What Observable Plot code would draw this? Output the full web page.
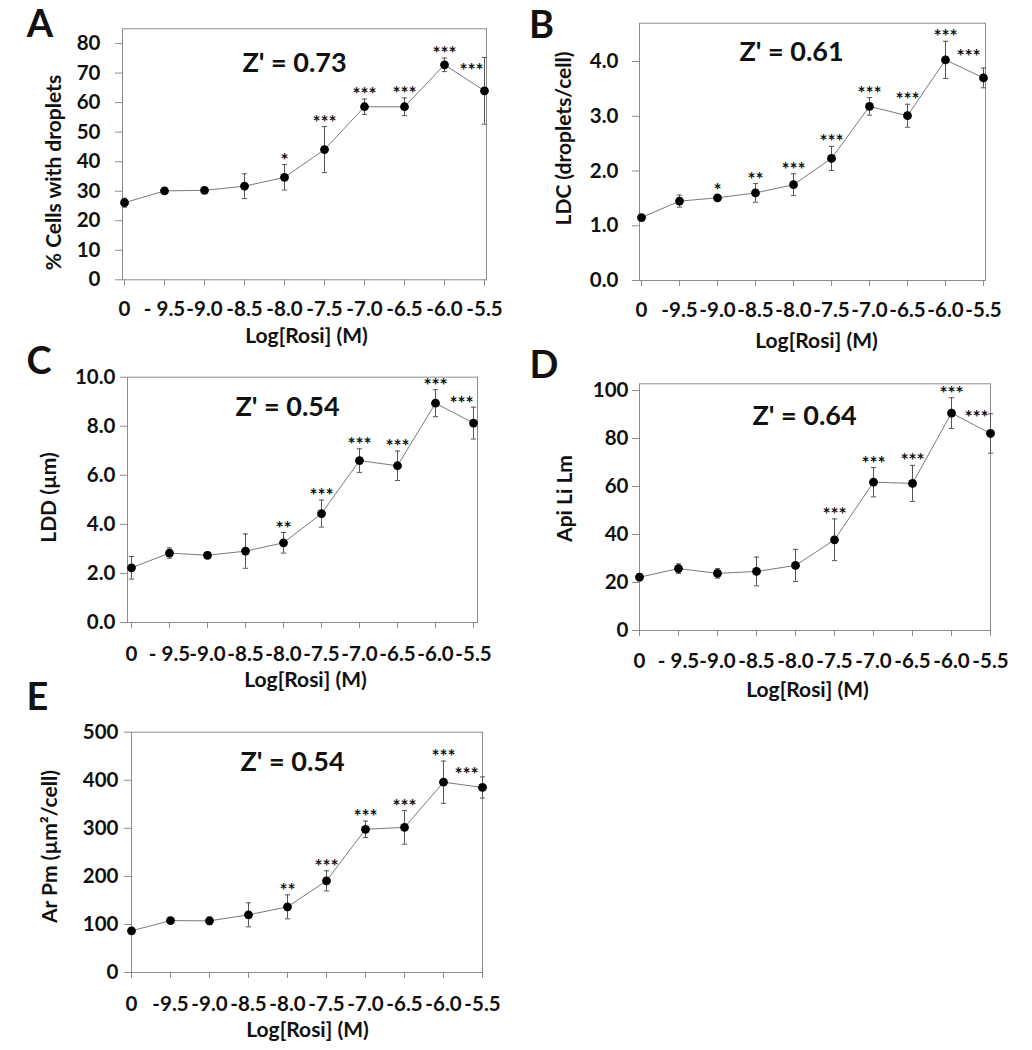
<!DOCTYPE html>
<html><head><meta charset="utf-8">
<script src="https://cdn.jsdelivr.net/npm/d3@7"></script>
<script src="https://cdn.jsdelivr.net/npm/@observablehq/plot@0.6"></script>
<style>
html,body{margin:0;padding:0;background:#fff;}
#page{position:relative;width:1032px;height:1050px;overflow:hidden;background:#fff;}
#page > div{position:absolute;}
#page svg{overflow:visible;}
</style></head><body><div id="page"></div>
<script>
// ---- categories & tick labels ----
const categories = ["0","-9.5","-9.0","-8.5","-8.0","-7.5","-7.0","-6.5","-6.0","-5.5"];
const tickLabelsSpaced = ["0","- 9.5","-9.0","-8.5","-8.0","-7.5","-7.0","-6.5","-6.0","-5.5"];
const tickLabelsTight = ["0","-9.5","-9.0","-8.5","-8.0","-7.5","-7.0","-6.5","-6.0","-5.5"];
const xTitle = "Log[Rosi] (M)";

// ---- A: % cells with droplets ----
const pctCellsMean = [26.1, 30.1, 30.3, 31.7, 34.7, 44.1, 58.6, 58.6, 72.8, 64.0];
const pctCellsErr  = [1.5, 0.6, 1.0, 4.2, 4.3, 7.8, 2.6, 3.0, 2.3, 11.3];
const pctCellsStars = ["", "", "", "", "*", "***", "***", "***", "***", "***"];
const pctCellsTicks = [0, 10, 20, 30, 40, 50, 60, 70, 80];

// ---- B: LDC ----
const ldcMean = [1.15, 1.45, 1.51, 1.60, 1.75, 2.23, 3.18, 3.01, 4.03, 3.70];
const ldcErr  = [0.03, 0.11, 0.05, 0.17, 0.20, 0.22, 0.16, 0.21, 0.34, 0.18];
const ldcStars = ["", "", "*", "**", "***", "***", "***", "***", "***", "***"];
const ldcTicks = [0, 1, 2, 3, 4];

// ---- C: LDD ----
const lddMean = [2.23, 2.83, 2.74, 2.91, 3.25, 4.44, 6.60, 6.39, 8.94, 8.13];
const lddErr  = [0.46, 0.21, 0.13, 0.70, 0.42, 0.55, 0.48, 0.60, 0.55, 0.65];
const lddStars = ["", "", "", "", "**", "***", "***", "***", "***", "***"];
const lddTicks = [0, 2, 4, 6, 8, 10];

// ---- D: Api Li Lm ----
const apiMean = [22.2, 25.8, 23.8, 24.6, 27.1, 37.8, 61.8, 61.3, 90.6, 82.1];
const apiErr  = [1.5, 2.0, 2.0, 6.0, 6.7, 8.7, 6.1, 7.5, 6.4, 8.2];
const apiStars = ["", "", "", "", "", "***", "***", "***", "***", "***"];
const apiTicks = [0, 20, 40, 60, 80, 100];

// ---- E: Ar Pm ----
const arMean = [86.7, 108, 107.5, 120, 136.6, 190.7, 298, 302, 396, 385];
const arErr  = [4, 5, 8, 25, 25, 21, 17, 35, 44, 22];
const arStars = ["", "", "", "", "**", "***", "***", "***", "***", "***"];
const arTicks = [0, 100, 200, 300, 400, 500];

const panels = [
  {letter: "A", yTitle: "% Cells with droplets", z: "Z' = 0.73",
   mean: pctCellsMean, err: pctCellsErr, stars: pctCellsStars, ticks: pctCellsTicks, fmt: d3.format("d"), yMax: 85, xLabels: tickLabelsSpaced,
   box: {left: 0, top: 0, width: 516, height: 345}, frame: {left: 122, right: 486, top: 28.3, bottom: 279.3},
   yPad: 15, xPad: 16, letterPos: [39.5, 24], yTitlePos: [53.5, 172], zPos: [294, 63], xTitlePos: [306, 336], lastStar: {dx: -13, dy: 17}},
  {letter: "B", yTitle: "LDC (droplets/cell)", z: "Z' = 0.61",
   mean: ldcMean, err: ldcErr, stars: ldcStars, ticks: ldcTicks, fmt: d3.format(".1f"), yMax: 4.7, xLabels: tickLabelsTight,
   box: {left: 516, top: 0, width: 516, height: 355}, frame: {left: 639, right: 985, top: 22.7, bottom: 280},
   yPad: 14, xPad: 16, letterPos: [541, 25], yTitlePos: [564, 138], zPos: [791, 52], xTitlePos: [816, 341], lastStar: {dx: -15, dy: -7}},
  {letter: "C", yTitle: "LDD (µm)", z: "Z' = 0.54",
   mean: lddMean, err: lddErr, stars: lddStars, ticks: lddTicks, fmt: d3.format(".1f"), yMax: 10, xLabels: tickLabelsSpaced,
   box: {left: 0, top: 340, width: 516, height: 355}, frame: {left: 127, right: 477, top: 376.7, bottom: 622},
   yPad: 5, xPad: 18, letterPos: [38.5, 361.5], yTitlePos: [49, 497], zPos: [287, 407], xTitlePos: [305, 680], lastStar: {dx: -12, dy: 1}},
  {letter: "D", yTitle: "Api Li Lm", z: "Z' = 0.64",
   mean: apiMean, err: apiErr, stars: apiStars, ticks: apiTicks, fmt: d3.format("d"), yMax: 102.8, xLabels: tickLabelsSpaced,
   box: {left: 516, top: 340, width: 516, height: 365}, frame: {left: 639, right: 990, top: 383.3, bottom: 630},
   yPad: 4, xPad: 17, letterPos: [543.5, 365], yTitlePos: [565, 498], zPos: [804, 416], xTitlePos: [807, 690], lastStar: {dx: -14, dy: 8}},
  {letter: "E", yTitle: "Ar Pm (µm²/cell)", z: "Z' = 0.54",
   mean: arMean, err: arErr, stars: arStars, ticks: arTicks, fmt: d3.format("d"), yMax: 500, xLabels: tickLabelsTight,
   box: {left: 0, top: 685, width: 516, height: 365}, frame: {left: 131, right: 482, top: 731.7, bottom: 972},
   yPad: 6, xPad: 18, letterPos: [37, 697.5], yTitlePos: [50, 846], zPos: [292, 762], xTitlePos: [307, 1030], lastStar: {dx: -16, dy: 2}}
];

// horizontal cap symbol for error bars
const capSymbol = {
  draw(context, size) {
    const w = Math.sqrt(size / Math.PI);
    context.moveTo(-w, 0);
    context.lineTo(w, 0);
  }
};

const page = document.getElementById("page");
const GRAY = "#8c8c8c";
const INK = "#111";

for (const p of panels) {
  const rows = categories.map((c, i) => ({cat: c, mean: p.mean[i], err: p.err[i], star: p.stars[i], last: i === categories.length - 1}));
  const f = p.frame, b = p.box;
  const rel = ([x, y]) => ({dx: x - f.left, dy: y - f.top});
  const label = (txt, pos, opts) => Plot.text([txt], {text: d => d, frameAnchor: "top-left", ...rel(pos), textAnchor: "middle", lineAnchor: "middle", fill: INK, ...opts});

  const chart = Plot.plot({
    width: b.width,
    height: b.height,
    marginLeft: f.left - b.left,
    marginRight: b.left + b.width - f.right,
    marginTop: f.top - b.top,
    marginBottom: b.top + b.height - f.bottom,
    style: {fontFamily: "Lato, 'Open Sans', sans-serif", fontWeight: "bold", background: "transparent", overflow: "visible", color: INK},
    x: {type: "point", domain: categories, padding: 0},
    y: {domain: [0, p.yMax]},
    marks: [
      Plot.frame({stroke: GRAY, strokeWidth: 1}),
      Plot.axisY({ticks: p.ticks, tickSize: 7, tickPadding: p.yPad, tickFormat: p.fmt, fontSize: 20.5, stroke: GRAY, fill: INK, label: null}),
      Plot.axisX({tickSize: 6, tickPadding: p.xPad, tickFormat: d => p.xLabels[categories.indexOf(d)], fontSize: 20.5, stroke: GRAY, fill: INK, label: null}),
      Plot.line(rows, {x: "cat", y: "mean", stroke: "#7a7a7a", strokeWidth: 1}),
      Plot.ruleX(rows, {x: "cat", y1: d => d.mean - d.err, y2: d => d.mean + d.err, stroke: "#555", strokeWidth: 1}),
      Plot.dot(rows, {x: "cat", y: d => d.mean + d.err, symbol: capSymbol, r: 2.6, stroke: "#555", strokeWidth: 1, fill: "none"}),
      Plot.dot(rows, {x: "cat", y: d => d.mean - d.err, symbol: capSymbol, r: 2.6, stroke: "#555", strokeWidth: 1, fill: "none"}),
      Plot.dot(rows, {x: "cat", y: "mean", r: 4.4, fill: "#000", stroke: "none"}),
      Plot.text(rows.filter(d => d.star && !d.last), {x: "cat", y: d => d.mean + d.err, text: "star", dy: -4, fontSize: 19, lineAnchor: "middle", fill: INK}),
      Plot.text(rows.filter(d => d.star && d.last), {x: "cat", y: d => d.mean + d.err, text: "star", dx: p.lastStar.dx, dy: -4 + p.lastStar.dy, fontSize: 19, lineAnchor: "middle", fill: INK}),
      label(p.letter, p.letterPos, {fontSize: 38}),
      label(p.z, p.zPos, {fontSize: 27}),
      label(p.yTitle, p.yTitlePos, {fontSize: 21, rotate: -90}),
      label(xTitle, p.xTitlePos, {fontSize: 21})
    ]
  });
  const holder = document.createElement("div");
  holder.style.left = b.left + "px";
  holder.style.top = b.top + "px";
  holder.style.width = b.width + "px";
  holder.style.height = b.height + "px";
  holder.appendChild(chart);
  page.appendChild(holder);
}
</script>
</body></html>
